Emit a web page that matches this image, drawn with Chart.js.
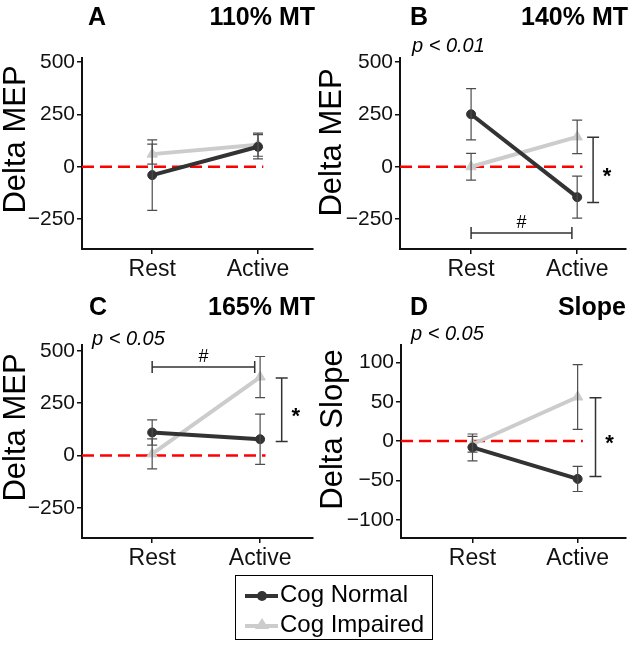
<!DOCTYPE html>
<html>
<head>
<meta charset="utf-8">
<script src="https://cdn.jsdelivr.net/npm/chart.js@4.4.1/dist/chart.umd.min.js"></script>
<style>
  body { margin: 0; background: #fff; font-family: 'Liberation Sans', Arial, sans-serif; }
  #page { position: relative; width: 633px; height: 645px; overflow: hidden; }
  canvas { position: absolute; }
  .txt { position: absolute; white-space: nowrap; line-height: 1; color: #000; }
  .head { font-size: 25px; font-weight: bold; }
  .pval { font-size: 20px; font-style: italic; }
  .ytitle { font-size: 31px; width: 240px; text-align: center; transform: rotate(-90deg); }
  #legend { position: absolute; left: 235px; top: 575px; width: 198px; height: 65px; border: 1.5px solid #000; box-sizing: border-box; }
  .mk { position: absolute; left: 9px; width: 33px; height: 4px; }
  .dot { position: absolute; left: 21px; width: 10px; height: 10px; border-radius: 50%; background: #333; }
  .tri { position: absolute; left: 19px; width: 0; height: 0; border-left: 7px solid transparent; border-right: 7px solid transparent; border-bottom: 11px solid #ccc; }
</style>
</head>
<body>
<div id="page">
  <canvas id="cA" width="320" height="300" style="left:0;top:0"></canvas>
  <canvas id="cB" width="320" height="300" style="left:313px;top:0"></canvas>
  <canvas id="cC" width="320" height="290" style="left:0;top:290px"></canvas>
  <canvas id="cD" width="320" height="290" style="left:313px;top:290px"></canvas>

  <div class="txt head" style="left:88px;top:4px">A</div>
  <div class="txt head" style="right:318px;top:4px">110% MT</div>
  <div class="txt head" style="left:410px;top:4px">B</div>
  <div class="txt head" style="right:5px;top:4px">140% MT</div>
  <div class="txt head" style="left:89px;top:294px">C</div>
  <div class="txt head" style="right:318px;top:294px">165% MT</div>
  <div class="txt head" style="left:410px;top:294px">D</div>
  <div class="txt head" style="right:7px;top:294px">Slope</div>

  <div class="txt pval" style="left:412px;top:35px">p &lt; 0.01</div>
  <div class="txt pval" style="left:92px;top:328px">p &lt; 0.05</div>
  <div class="txt pval" style="left:411px;top:323px">p &lt; 0.05</div>

  <div class="txt ytitle" style="left:-106px;top:124px">Delta MEP</div>
  <div class="txt ytitle" style="left:210px;top:127px">Delta MEP</div>
  <div class="txt ytitle" style="left:-106px;top:412px">Delta MEP</div>
  <div class="txt ytitle" style="left:211px;top:414px">Delta Slope</div>

  <div id="legend">
    <div class="mk" style="top:18px;background:#333"></div>
    <div class="dot" style="top:15px"></div>
    <div class="txt" style="left:44px;top:6px;font-size:24px">Cog Normal</div>
    <div class="mk" style="top:48px;background:#ccc"></div>
    <div class="tri" style="top:42px"></div>
    <div class="txt" style="left:44px;top:36px;font-size:24px">Cog Impaired</div>
  </div>
</div>

<script>
// categories on the x axis
const categories = ['Rest', 'Active'];

// A - 110% MT (mean, error)
const normalA = [-40, 95];
const normalErrA = [168, 58];
const impairedA = [60, 105];
const impairedErrA = [48, 55];

// B - 140% MT
const normalB = [250, -145];
const normalErrB = [122, 100];
const impairedB = [0, 142];
const impairedErrB = [64, 80];

// C - 165% MT
const normalC = [110, 78];
const normalErrC = [60, 120];
const impairedC = [8, 375];
const impairedErrC = [72, 98];

// D - Slope
const normalD = [-8, -48];
const normalErrD = [17, 16];
const impairedD = [-4, 56];
const impairedErrD = [10, 41];

// tick labels
const mepTicks = [-250, 0, 250, 500];
const slopeTicks = [-100, -50, 0, 50, 100];

// significance brackets (data units)
const starB = [-170, 141];
const starC = [67, 370];
const starD = [-45, 55];
const hashB = -316;
const hashC = 423;

// draws mean +/- error whiskers
const errorBars = {
    id: 'errorBars',
    afterDatasetsDraw(chart) {
        const ctx = chart.ctx;
        const x = chart.scales.x, y = chart.scales.y;
        ctx.save();
        ctx.strokeStyle = '#4d4d4d';
        ctx.lineWidth = 1.2;
        chart.data.datasets.forEach(ds => {
            if (!ds.errors) return;
            ds.data.forEach((pt, i) => {
                const px = x.getPixelForValue(pt.x);
                const hi = y.getPixelForValue(pt.y + ds.errors[i]);
                const lo = y.getPixelForValue(pt.y - ds.errors[i]);
                ctx.beginPath();
                ctx.moveTo(px, hi); ctx.lineTo(px, lo);
                ctx.moveTo(px - 5, hi); ctx.lineTo(px + 5, hi);
                ctx.moveTo(px - 5, lo); ctx.lineTo(px + 5, lo);
                ctx.stroke();
            });
        });
        ctx.restore();
    }
};

// '*' and '#' brackets
const brackets = {
    id: 'brackets',
    afterDraw(chart, args, opts) {
        const ctx = chart.ctx;
        const x = chart.scales.x, y = chart.scales.y;
        ctx.save();
        ctx.strokeStyle = '#333';
        ctx.fillStyle = '#000';
        ctx.lineWidth = 1.5;
        if (opts.star) {
            const px = x.getPixelForValue(opts.starX);
            const top = y.getPixelForValue(opts.star[1]);
            const bot = y.getPixelForValue(opts.star[0]);
            ctx.beginPath();
            ctx.moveTo(px - 6, top); ctx.lineTo(px + 6, top);
            ctx.moveTo(px, top); ctx.lineTo(px, bot);
            ctx.moveTo(px - 6, bot); ctx.lineTo(px + 6, bot);
            ctx.stroke();
            ctx.font = 'bold 22px "Liberation Sans"';
            ctx.textAlign = 'center';
            ctx.textBaseline = 'alphabetic';
            ctx.fillText('*', px + 14, (top + bot) / 2 + 13);
        }
        if (opts.hash !== undefined) {
            const x1 = x.getPixelForValue(1), x2 = x.getPixelForValue(1.95);
            const py = y.getPixelForValue(opts.hash);
            ctx.beginPath();
            ctx.moveTo(x1, py - 6); ctx.lineTo(x1, py + 6);
            ctx.moveTo(x1, py); ctx.lineTo(x2, py);
            ctx.moveTo(x2, py - 6); ctx.lineTo(x2, py + 6);
            ctx.stroke();
            ctx.font = '18px "Liberation Sans"';
            ctx.textAlign = 'center';
            ctx.textBaseline = 'alphabetic';
            ctx.fillText('#', (x1 + x2) / 2, py - 5);
        }
        ctx.restore();
    }
};

function points(values) {
    return values.map((v, i) => ({ x: i + 1, y: v }));
}

function minusLabel(v) {
    return v < 0 ? '\u2212' + Math.abs(v) : String(v);
}

function makeChart(p) {
    const [bx, by, bw, bh] = p.box;
    const [al, at, ar, ab] = p.area;
    new Chart(document.getElementById(p.id), {
        type: 'line',
        data: {
            datasets: [
                {
                    label: 'zero',
                    data: [{ x: p.xr[0], y: 0 }, { x: 2.05, y: 0 }],
                    borderColor: '#ff0000',
                    borderWidth: 2.5,
                    borderDash: [12, 6],
                    pointRadius: 0,
                    order: 3
                },
                {
                    label: 'Cog Impaired',
                    data: points(p.impaired),
                    errors: p.impairedErr,
                    borderColor: '#cccccc',
                    backgroundColor: '#cccccc',
                    borderWidth: 4,
                    pointStyle: 'triangle',
                    pointRadius: 6,
                    pointBorderWidth: 1,
                    order: 2
                },
                {
                    label: 'Cog Normal',
                    data: points(p.normal),
                    errors: p.normalErr,
                    borderColor: '#333333',
                    backgroundColor: '#333333',
                    borderWidth: 4,
                    pointRadius: 4.5,
                    pointBorderWidth: 1,
                    order: 1
                }
            ]
        },
        options: {
            responsive: false,
            animation: false,
            events: [],
            layout: { padding: { top: at - by, right: bx + bw - ar, left: 0, bottom: 0 } },
            plugins: {
                legend: { display: false },
                tooltip: { enabled: false },
                brackets: { star: p.star, starX: p.starX, hash: p.hash }
            },
            scales: {
                x: {
                    type: 'linear',
                    min: p.xr[0],
                    max: p.xr[1],
                    afterBuildTicks: s => { s.ticks = categories.map((c, i) => ({ value: i + 1 })); },
                    afterFit: s => { s.height = by + bh - ab; },
                    border: { display: true, color: '#111', width: 2 },
                    grid: { drawOnChartArea: false, drawTicks: true, tickLength: 5, color: '#111', lineWidth: 1.5 },
                    ticks: {
                        autoSkip: false, maxRotation: 0, padding: 2, color: '#111',
                        font: { family: 'Liberation Sans', size: 23 },
                        callback: v => categories[v - 1]
                    }
                },
                y: {
                    min: p.yr[0],
                    max: p.yr[1],
                    afterBuildTicks: s => { s.ticks = p.ticks.map(v => ({ value: v })); },
                    afterFit: s => { s.width = al - bx; },
                    border: { display: true, color: '#111', width: 2 },
                    grid: { drawOnChartArea: false, drawTicks: true, tickLength: 5, color: '#111', lineWidth: 1.5 },
                    ticks: {
                        autoSkip: false, padding: 2, color: '#111',
                        font: { family: 'Liberation Sans', size: 21 },
                        callback: minusLabel
                    }
                }
            }
        },
        plugins: [errorBars, brackets]
    });
}

makeChart({ id: 'cA', box: [0, 0, 320, 300], area: [82, 58, 316, 249], xr: [0.336, 2.52], yr: [-392, 518],
    ticks: mepTicks, normal: normalA, normalErr: normalErrA, impaired: impairedA, impairedErr: impairedErrA });
makeChart({ id: 'cB', box: [313, 0, 320, 300], area: [400, 58, 628, 249], xr: [0.33, 2.46], yr: [-392, 518],
    ticks: mepTicks, normal: normalB, normalErr: normalErrB, impaired: impairedB, impairedErr: impairedErrB,
    star: starB, starX: 2.15, hash: hashB });
makeChart({ id: 'cC', box: [0, 290, 320, 290], area: [82, 345, 315, 538], xr: [0.35, 2.49], yr: [-394, 528],
    ticks: mepTicks, normal: normalC, normalErr: normalErrC, impaired: impairedC, impairedErr: impairedErrC,
    star: starC, starX: 2.2, hash: hashC });
makeChart({ id: 'cD', box: [313, 290, 320, 290], area: [401, 345, 628, 538], xr: [0.32, 2.46], yr: [-123, 122],
    ticks: slopeTicks, normal: normalD, normalErr: normalErrD, impaired: impairedD, impairedErr: impairedErrD,
    star: starD, starX: 2.17 });
</script>
</body>
</html>
